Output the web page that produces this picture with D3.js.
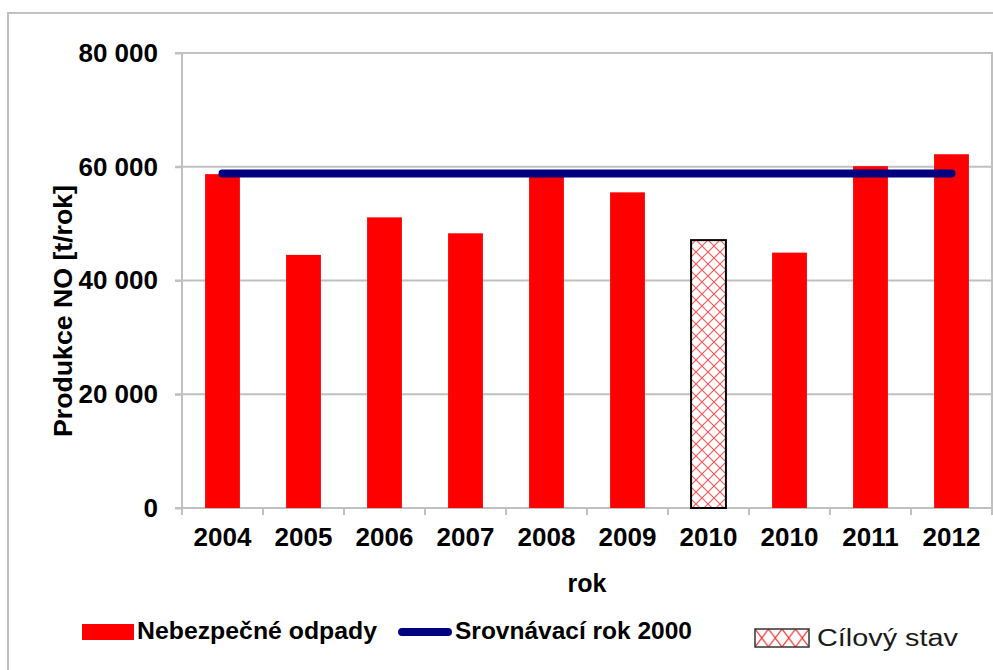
<!DOCTYPE html>
<html lang="cs">
<head>
<meta charset="utf-8"/>
<style>
	body { margin: 0; background: #ffffff; }
	* { font-family: "Liberation Sans", Arial, sans-serif; }
	.grid line { stroke: #c0c0c0; stroke-width: 2; }
	.tick-label { font-weight: bold; font-size: 26px; fill: #000; }
</style>
</head>
<body>
<svg id="container" width="993" height="670"></svg>

<script src="https://d3js.org/d3.v7.min.js"></script>
<script>
	// data
	let categories = ["2004", "2005", "2006", "2007", "2008", "2009", "2010", "2010", "2011", "2012"]
	let odpady = [58700, 44500, 51100, 48300, 59000, 55500, null, 44900, 60100, 62200]
	let cilovy = [null, null, null, null, null, null, 47100, null, null, null]
	let srovnavaci = [58800, 58800, 58800, 58800, 58800, 58800, 58800, 58800, 58800, 58800]
	let yTicks = [0, 20000, 40000, 60000, 80000]

	let svg = d3.select("svg")
	let plotLeft = 182, plotRight = 992, plotTop = 53, plotBottom = 508

	// patterns for the target bar and its legend key
	let defs = svg.append("defs")
	let pat = defs.append("pattern")
		.attr("id", "hatch")
		.attr("patternUnits", "userSpaceOnUse")
		.attr("width", 12).attr("height", 12)
	pat.append("rect").attr("width", 12).attr("height", 12).attr("fill", "#fff")
	pat.append("path").attr("d", "M0,0 L12,12 M12,0 L0,12")
		.attr("stroke", "#ff5a5a").attr("stroke-width", 1.2)

	let patL = defs.append("pattern")
		.attr("id", "hatchLegend")
		.attr("patternUnits", "userSpaceOnUse")
		.attr("x", 755).attr("y", 629)
		.attr("width", 13.5).attr("height", 18)
	patL.append("rect").attr("width", 13.5).attr("height", 18).attr("fill", "#fff")
	patL.append("path").attr("d", "M0,0 L13.5,18 M13.5,0 L0,18")
		.attr("stroke", "#ff3030").attr("stroke-width", 1.2)

	// outer border
	svg.append("rect")
		.attr("x", 8).attr("y", 13)
		.attr("width", 1000).attr("height", 700)
		.attr("fill", "none").attr("stroke", "#c0c0c0").attr("stroke-width", 2)

	let idx = categories.map((d, i) => i)
	let xScale = d3.scaleBand().domain(idx).range([plotLeft, plotRight]).padding(0)
	let yScale = d3.scaleLinear().domain([0, 80000]).range([plotBottom, plotTop])
	let barW = xScale.bandwidth() * 0.43

	// gridlines
	svg.append("g").attr("class", "grid")
		.selectAll("line").data(yTicks.filter(d => d > 0)).enter().append("line")
		.attr("x1", plotLeft - 7).attr("x2", plotRight)
		.attr("y1", d => yScale(d)).attr("y2", d => yScale(d))

	// right border of plot
	svg.append("line")
		.attr("x1", plotRight).attr("x2", plotRight).attr("y1", plotTop - 1).attr("y2", plotBottom + 7)
		.attr("stroke", "#c0c0c0").attr("stroke-width", 2)

	// y axis
	let yAxis = svg.append("g")
		.attr("transform", "translate(" + plotLeft + ",0)")
		.call(d3.axisLeft(yScale).tickValues(yTicks).tickSize(7).tickPadding(17)
			.tickFormat(d => d3.format(",")(d).replace(/,/g, " ")))
	yAxis.select(".domain").attr("stroke", "#c0c0c0").attr("stroke-width", 2)
		.attr("d", "M0," + (plotBottom + 1) + "V" + (plotTop - 1))
	yAxis.selectAll(".tick line").attr("stroke", "#c0c0c0").attr("stroke-width", 2)
	yAxis.selectAll(".tick text").attr("class", "tick-label")
	yAxis.attr("font-family", null).attr("font-size", null)

	// x axis
	let xAxis = svg.append("g")
		.attr("transform", "translate(0," + plotBottom + ")")
		.call(d3.axisBottom(xScale).tickSize(0).tickPadding(20).tickFormat(i => categories[i]))
	xAxis.select(".domain").attr("stroke", "#c0c0c0").attr("stroke-width", 2)
		.attr("d", "M" + (plotLeft - 7) + ",0H" + plotRight)
	xAxis.selectAll(".tick text").attr("class", "tick-label")
	xAxis.attr("font-family", null).attr("font-size", null)
	// category separators
	xAxis.selectAll(".sep").data(d3.range(categories.length + 1)).enter().append("line")
		.attr("x1", i => plotLeft + i * xScale.step()).attr("x2", i => plotLeft + i * xScale.step())
		.attr("y1", 0).attr("y2", 7)
		.attr("stroke", "#c0c0c0").attr("stroke-width", 2)

	// bars
	svg.selectAll(".bar")
		.data(odpady.map((v, i) => ({ v: v, i: i })).filter(d => d.v != null))
		.enter().append("rect")
		.attr("class", "bar")
		.attr("x", d => xScale(d.i) + (xScale.bandwidth() - barW) / 2)
		.attr("width", barW)
		.attr("y", d => yScale(d.v))
		.attr("height", d => plotBottom - yScale(d.v))
		.attr("fill", "#ff0000")

	svg.selectAll(".target")
		.data(cilovy.map((v, i) => ({ v: v, i: i })).filter(d => d.v != null))
		.enter().append("rect")
		.attr("class", "target")
		.attr("x", d => xScale(d.i) + (xScale.bandwidth() - barW) / 2)
		.attr("width", barW)
		.attr("y", d => yScale(d.v))
		.attr("height", d => plotBottom - yScale(d.v))
		.attr("fill", "url(#hatch)")
		.attr("stroke", "#000").attr("stroke-width", 2)

	// comparison line
	let line = d3.line()
		.x((d, i) => xScale(i) + xScale.bandwidth() / 2)
		.y(d => yScale(d))
	svg.append("path")
		.datum(srovnavaci)
		.attr("d", line)
		.attr("fill", "none")
		.attr("stroke", "#000080")
		.attr("stroke-width", 8)
		.attr("stroke-linecap", "round")

	// axis titles
	svg.append("text")
		.attr("x", (plotLeft + plotRight) / 2).attr("y", 592)
		.attr("text-anchor", "middle")
		.attr("font-weight", "bold").attr("font-size", 25)
		.text("rok")

	svg.append("text")
		.attr("transform", "translate(72,311) rotate(-90)")
		.attr("text-anchor", "middle")
		.attr("font-weight", "bold").attr("font-size", 26)
		.attr("textLength", 252).attr("lengthAdjust", "spacingAndGlyphs")
		.text("Produkce NO [t/rok]")

	// legend
	let legend = svg.append("g")
	legend.append("rect").attr("x", 82).attr("y", 624).attr("width", 52).attr("height", 16).attr("fill", "#ff0000")
	legend.append("text").attr("x", 137).attr("y", 639)
		.attr("font-weight", "bold").attr("font-size", 24)
		.attr("textLength", 240).attr("lengthAdjust", "spacingAndGlyphs")
		.text("Nebezpečné odpady")

	legend.append("line").attr("x1", 402).attr("x2", 448).attr("y1", 632).attr("y2", 632)
		.attr("stroke", "#000080").attr("stroke-width", 8).attr("stroke-linecap", "round")
	legend.append("text").attr("x", 455).attr("y", 639)
		.attr("font-weight", "bold").attr("font-size", 24)
		.attr("textLength", 237).attr("lengthAdjust", "spacingAndGlyphs")
		.text("Srovnávací rok 2000")

	legend.append("rect").attr("x", 755).attr("y", 629).attr("width", 54).attr("height", 18)
		.attr("fill", "url(#hatchLegend)").attr("stroke", "#333").attr("stroke-width", 1.5)
	legend.append("text").attr("x", 817).attr("y", 646)
		.attr("font-size", 23.5).attr("fill", "#1a1a1a")
		.attr("textLength", 141).attr("lengthAdjust", "spacingAndGlyphs")
		.text("Cílový stav")
</script>
</body>
</html>
